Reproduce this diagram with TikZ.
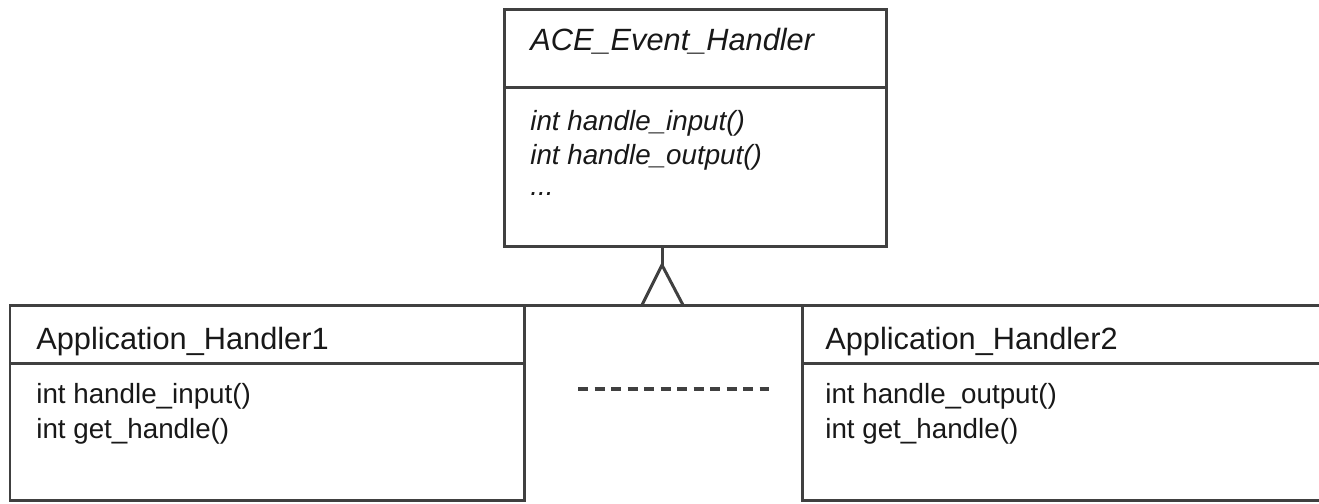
\documentclass[tikz,border=0pt]{standalone}
\usepackage{fontspec}
\setmainfont{Liberation Sans}
\usetikzlibrary{calc}
\definecolor{umlline}{HTML}{404040}
\definecolor{umltext}{HTML}{181818}
\tikzset{
	classline/.style={line width=0.06cm, color=umlline},
	classname/.style={anchor=base west, inner sep=0pt, text=umltext, font=\fontsize{17.5}{21}\selectfont},
	method/.style={anchor=base west, inner sep=0pt, text=umltext, font=\fontsize{15.8}{19}\selectfont},
	dashline/.style={line width=0.07cm, color=umlline, dash pattern=on 0.2cm off 0.13cm}
}

\begin{document}
\begin{tikzpicture}
		%%%%% START %%%%%
		\useasboundingbox (0, 0) rectangle (26.38, 10.06);
		\clip (0, 0) rectangle (26.38, 10.06);
		
		% abstract base class
		\draw[classline] (10.08, 9.88) rectangle (17.72, 5.14);
		\draw[classline] (10.08, 8.32) -- (17.72, 8.32);
		\node[classname, font=\fontsize{17.5}{21}\selectfont\itshape] (ace) at (10.6, 9.06) {ACE\_Event\_Handler};
		\node[method, font=\fontsize{15.8}{19}\selectfont\itshape] (ace-in) at (10.6, 7.46) {int handle\_input()};
		\node[method, font=\fontsize{15.8}{19}\selectfont\itshape] (ace-out) at (10.6, 6.78) {int handle\_output()};
		\node[method, font=\fontsize{15.8}{19}\selectfont\itshape] (ace-more) at (10.6, 6.16) {...};
		
		% first subclass
		\draw[classline] (0.2, 3.96) rectangle (10.48, 0.06);
		\draw[classline] (0.2, 2.80) -- (10.48, 2.80);
		\node[classname] (app1) at (0.72, 3.08) {Application\_Handler1};
		\node[method] (app1-in) at (0.72, 2.0) {int handle\_input()};
		\node[method] (app1-get) at (0.72, 1.3) {int get\_handle()};
		
		% second subclass, runs off the right edge
		\draw[classline] (16.04, 3.96) rectangle (26.8, 0.06);
		\draw[classline] (16.04, 2.80) -- (26.8, 2.80);
		\node[classname] (app2) at (16.5, 3.08) {Application\_Handler2};
		\node[method] (app2-out) at (16.5, 2.0) {int handle\_output()};
		\node[method] (app2-get) at (16.5, 1.3) {int get\_handle()};
		
		% generalization
		\coordinate (ace-foot) at (13.24, 5.14);
		\coordinate (tip) at (13.24, 4.76);
		\coordinate (base-l) at (12.84, 3.96);
		\coordinate (base-r) at (13.66, 3.96);
		\coordinate (app1-top) at (10.48, 3.96);
		\coordinate (app2-top) at (16.04, 3.96);
		\draw[classline] (ace-foot) -- (tip);
		\draw[classline, line join=miter] (base-l) -- (tip) -- (base-r);
		\draw[classline] (app1-top) -- (app2-top);
		
		% further subclasses
		\coordinate (dash-l) at (11.56, 2.28);
		\coordinate (dash-r) at (15.38, 2.28);
		\draw[dashline] (dash-l) -- (dash-r);
		
		%%%%% END %%%%%
	\end{tikzpicture}
\end{document}
